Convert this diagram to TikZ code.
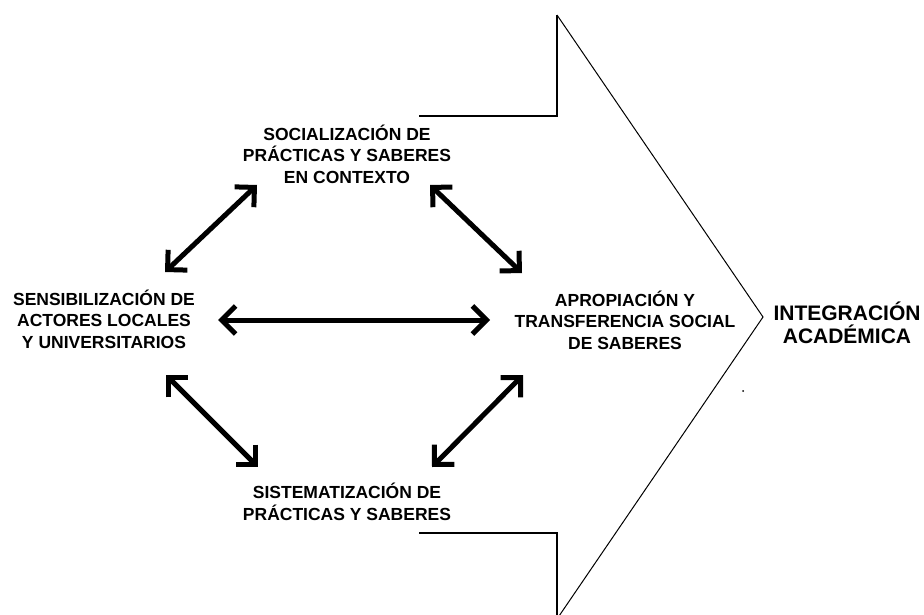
\documentclass[tikz,border=0pt]{standalone}
\usepackage{fontspec}
\setmainfont{Liberation Sans}
\usetikzlibrary{arrows.meta}
\tikzset{
  lbl/.style={font=\bfseries\fontsize{17.5}{21.5}\selectfont, align=center, inner sep=0pt, anchor=base},
  big/.style={font=\bfseries\fontsize{21}{23}\selectfont, align=center, inner sep=0pt, anchor=base},
  barb/.tip={Straight Barb[length=14pt,width=28pt,sharp,line width=0pt 1]},
  link/.style={line width=5pt, barb-barb},
  frame/.style={line width=2pt, line join=miter},
  slant/.style={line width=1pt}
}
\begin{document}
\begin{tikzpicture}[x=1pt,y=-1pt]
\useasboundingbox (0,0) rectangle (924,615);
% big arrow outline
\coordinate (f1) at (419,116);
\coordinate (f2) at (557,116);
\coordinate (f3) at (557,15);
\coordinate (tip) at (763,317);
\coordinate (f4) at (557,619);
\coordinate (f5) at (557,533);
\coordinate (f6) at (419,533);
\draw[frame] (f1) -- (f2) -- (f3);
\draw[frame] (f6) -- (f5) -- (f4);
\draw[slant] (f3) -- (tip) -- (f4);
\fill (743,391) circle (1pt);
% labels (anchor = baseline of last line)
\node[lbl] (soc) at (347,183) {SOCIALIZACIÓN DE\\PRÁCTICAS Y SABERES\\EN CONTEXTO};
\node[lbl] (sen) at (104,348) {SENSIBILIZACIÓN DE\\ACTORES LOCALES\\Y UNIVERSITARIOS};
\node[lbl] (apr) at (625,349) {APROPIACIÓN Y\\TRANSFERENCIA SOCIAL\\DE SABERES};
\node[lbl] (sis) at (347,520) {SISTEMATIZACIÓN DE\\PRÁCTICAS Y SABERES};
\node[big] (int) at (847,343) {INTEGRACIÓN\\ACADÉMICA};
% arrow ends
\coordinate (a1) at (165,272); \coordinate (a2) at (257,185);
\coordinate (b1) at (430,185); \coordinate (b2) at (522,273);
\coordinate (c1) at (218,320); \coordinate (c2) at (490,320);
\coordinate (d1) at (166,375); \coordinate (d2) at (258,467);
\coordinate (e1) at (523,375); \coordinate (e2) at (432,467);
\draw[link] (a1) -- (a2);
\draw[link] (b1) -- (b2);
\draw[link] (c1) -- (c2);
\draw[link] (d1) -- (d2);
\draw[link] (e1) -- (e2);
\end{tikzpicture}
\end{document}
